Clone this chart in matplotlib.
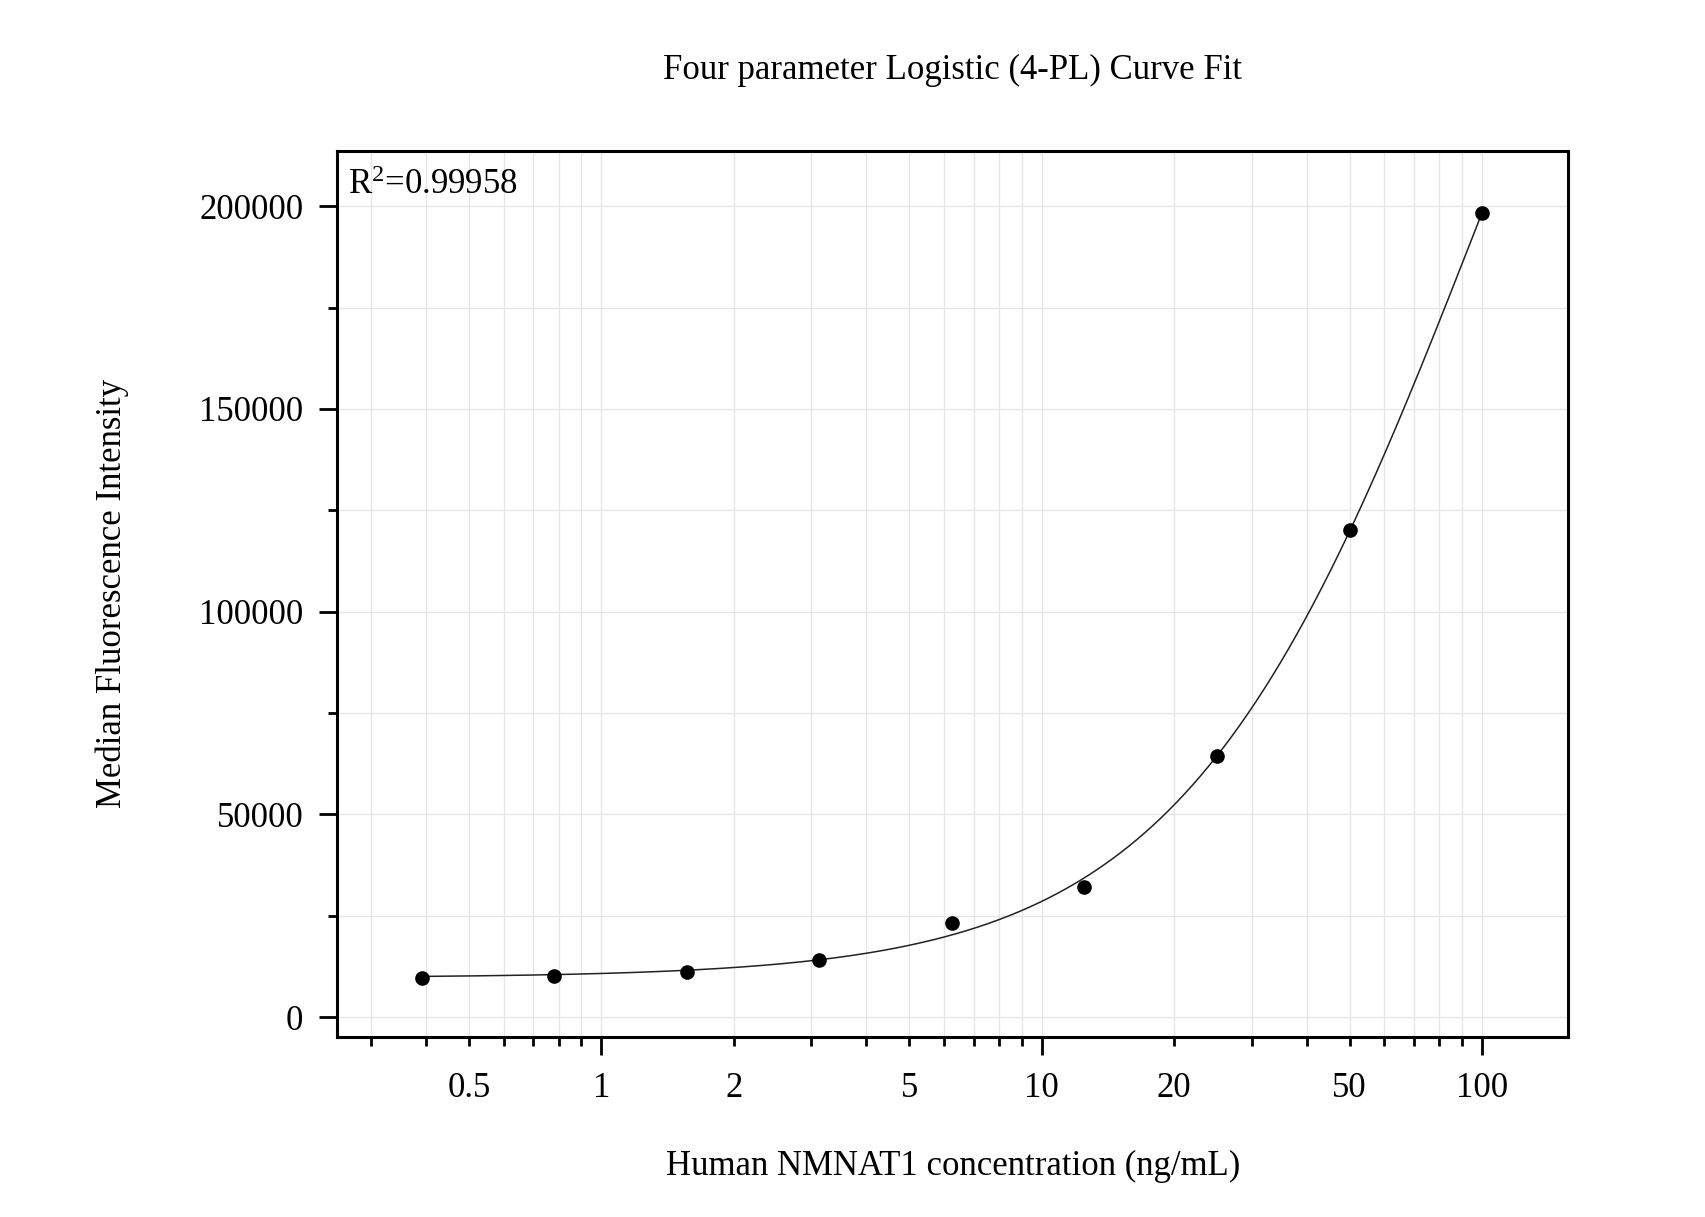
import numpy as np
import matplotlib
matplotlib.use("Agg")
import matplotlib.pyplot as plt
from matplotlib.ticker import FixedLocator, NullFormatter, FixedFormatter

conc = [0.390625, 0.78125, 1.5625, 3.125, 6.25, 12.5, 25, 50, 100]
mfi = [9650, 10190, 11260, 14210, 23320, 32170, 64340, 120100, 198400]

x_labeled = [0.5, 1, 2, 5, 10, 20, 50, 100]
x_label_text = ["0.5", "1", "2", "5", "10", "20", "50", "100"]
y_ticks = [0, 50000, 100000, 150000, 200000]
r2_text = r"R$^{2}$=0.99958"

plt.rcParams["font.family"] = ["Liberation Serif", "DejaVu Serif"]
plt.rcParams["mathtext.fontset"] = "custom"
plt.rcParams["mathtext.rm"] = "Liberation Serif"
plt.rcParams["mathtext.it"] = "Liberation Serif"


def four_pl(x, a, b, c, d):
    return d + (a - d) / (1.0 + (x / c) ** b)


def fit_4pl(x, y):
    """grid search on slope/midpoint, least squares for the two asymptotes"""
    x = np.asarray(x, float)
    y = np.asarray(y, float)
    best = None
    for b in np.linspace(0.5, 3.0, 126):
        for logc in np.linspace(0.0, 4.0, 201):
            c = 10 ** logc
            g = 1.0 / (1.0 + (x / c) ** b)
            M = np.column_stack([g, 1 - g])
            coef, *_ = np.linalg.lstsq(M, y, rcond=None)
            err = np.sum((M @ coef - y) ** 2)
            if best is None or err < best[0]:
                best = (err, coef[0], b, c, coef[1])
    return best[1:]


a, b, c, d = fit_4pl(conc, mfi)
xs = np.logspace(np.log10(conc[0]), np.log10(conc[-1]), 400)
ys = four_pl(xs, a, b, c, d)

W, H = 1705, 1217
fig = plt.figure(figsize=(W / 100, H / 100), dpi=100)
ax = fig.add_axes([336.7 / W, 1 - 1036.5 / H, (1568 - 336.7) / W, (1036.5 - 151) / H])

ax.plot(xs, ys, color="#222222", lw=1.1, zorder=3)
ax.plot(conc, mfi, "o", color="black", ms=9.5, zorder=4)

ax.set_xscale("log")
ax.set_xlim(0.2506, 156.7)
ax.set_ylim(-4760, 213600)

ax.xaxis.set_major_locator(FixedLocator([1, 10, 100]))
ax.xaxis.set_major_formatter(FixedFormatter(["1", "10", "100"]))
minor_x = [v * m for v in (0.1, 1, 10) for m in range(2, 10) if 0.25 < v * m < 156]
ax.xaxis.set_minor_locator(FixedLocator(minor_x))
ax.xaxis.set_minor_formatter(
    FixedFormatter([x_label_text[x_labeled.index(v)] if v in x_labeled else "" for v in minor_x]))

ax.yaxis.set_major_locator(FixedLocator(y_ticks))
ax.yaxis.set_minor_locator(FixedLocator([25000, 75000, 125000, 175000]))
ax.yaxis.set_minor_formatter(NullFormatter())

ax.tick_params(which="major", direction="out", length=13, width=2, labelsize=25)
ax.tick_params(which="minor", direction="out", length=6.5, width=2, labelsize=25)
ax.tick_params(axis="x", which="major", pad=12.5)
ax.tick_params(axis="x", which="minor", pad=19)
ax.tick_params(axis="y", which="major", pad=11)

for s in ax.spines.values():
    s.set_linewidth(2.2)

ax.grid(True, which="both", color="#e6e6e6", lw=1.0)
ax.set_axisbelow(True)

ax.text(0.009, 0.961, r2_text, transform=ax.transAxes, fontsize=25, va="center", ha="left")

fig.text(953 / W, 1 - 70 / H, "Four parameter Logistic (4-PL) Curve Fit", fontsize=25,
         ha="center", va="center")
fig.text(953 / W, 1 - 1166 / H, "Human NMNAT1 concentration (ng/mL)", fontsize=25,
         ha="center", va="center")
fig.text(112 / W, 1 - 593 / H, "Median Fluorescence Intensity", fontsize=25,
         ha="center", va="center", rotation=90)

fig.savefig("out.png", dpi=100)
